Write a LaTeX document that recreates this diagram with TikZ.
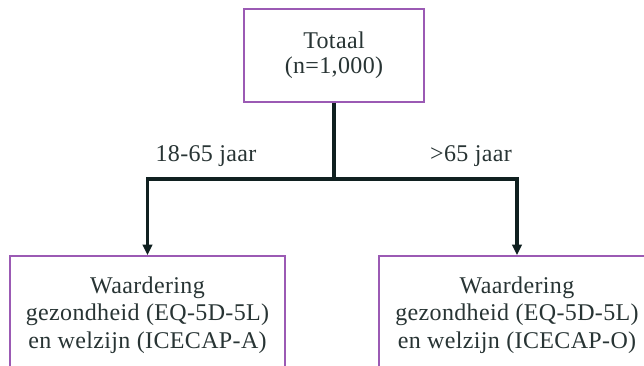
\documentclass[tikz,border=0pt]{standalone}
\usepackage{fontspec}
\setmainfont{Liberation Serif}[LetterSpace=1.5]
\usetikzlibrary{arrows.meta}
\definecolor{boxpurple}{RGB}{155,90,180}
\definecolor{inkdark}{RGB}{16,32,32}
\definecolor{txtdark}{RGB}{40,52,52}
\tikzset{
  box/.style={draw=boxpurple, line width=1.1pt, fill=white, align=center, text=txtdark, inner sep=0pt},
  conn/.style={draw=inkdark, line width=2.3pt, -{Triangle[width=7pt,length=8pt]}},
  lbl/.style={text=txtdark, anchor=base, inner sep=0pt, font=\fontsize{18}{20}\selectfont}
}
\begin{document}
\begin{tikzpicture}[x=0.75pt,y=-0.75pt]
\clip (0,0) rectangle (644,366);
\fill[white] (0,0) rectangle (644,366);
\node[box, minimum width=135pt, minimum height=69.75pt, font=\fontsize{18}{19}\selectfont] (top) at (334,55.5) {Totaal\\(n=1,000)};
\node[box, minimum width=206.25pt, minimum height=88.5pt, font=\fontsize{18}{20.5}\selectfont] (left) at (147.5,315) {Waardering\\gezondheid (EQ-5D-5L)\\en welzijn (ICECAP-A)};
\node[box, minimum width=207pt, minimum height=88.5pt, font=\fontsize{18}{20.5}\selectfont] (right) at (517,315) {Waardering\\gezondheid (EQ-5D-5L)\\en welzijn (ICECAP-O)};
\coordinate (split) at (334,179);
\draw[draw=inkdark, line width=2.3pt] (top.south) -- (split);
\draw[conn] (split) -| (left.north);
\draw[conn] (split) -| (right.north);
\node[lbl] (la) at (206,162) {18-65 jaar};
\node[lbl] (lb) at (471,162) {>65 jaar};
\end{tikzpicture}
\end{document}
